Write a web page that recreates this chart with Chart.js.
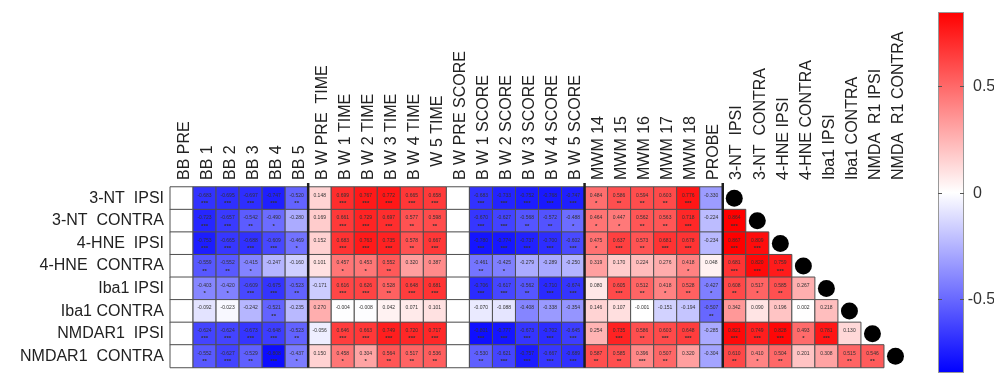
<!DOCTYPE html>
<html>
<head>
<meta charset="utf-8">
<script src="https://cdn.jsdelivr.net/npm/chart.js@4.4.1/dist/chart.umd.min.js"></script>
<style>
  html, body { margin: 0; padding: 0; background: #fff; }
  #wrap { width: 994px; height: 376px; }
</style>
</head>
<body>
<div id="wrap"><canvas id="corrChart" width="994" height="376"></canvas></div>
<script>
// row and column labels
const rowLabels = ["3-NT  IPSI", "3-NT  CONTRA", "4-HNE  IPSI", "4-HNE  CONTRA", "Iba1 IPSI", "Iba1 CONTRA", "NMDAR1  IPSI", "NMDAR1  CONTRA"]
const colLabels = [
    "BB PRE", "BB 1", "BB 2", "BB 3", "BB 4", "BB 5",
    "B W PRE  TIME", "B W 1 TIME", "B W 2 TIME", "B W 3 TIME", "B W 4 TIME", "   W 5 TIME",
    "B W PRE SCORE", "B W 1 SCORE", "B W 2 SCORE", "B W 3 SCORE", "B W 4 SCORE", "B W 5 SCORE",
    "MWM 14", "MWM 15", "MWM 16", "MWM 17", "MWM 18", "PROBE",
    "3-NT  IPSI", "3-NT  CONTRA", "4-HNE IPSI", "4-HNE CONTRA", "Iba1 IPSI", "Iba1 CONTRA", "NMDA  R1 IPSI", "NMDA  R1 CONTRA"
]
const cbTicks = [0.5, 0, -0.5]
const cbMin = -0.85
const cbMax = 0.85

// r values per row: 24 behaviour columns, then the lower triangle
const r3ntIpsi = [null, -0.683, -0.695, -0.697, -0.747, -0.520, 0.148, 0.699, 0.767, 0.772, 0.665, 0.658, null, -0.683, -0.733, -0.752, -0.768, -0.747, 0.484, 0.586, 0.594, 0.603, 0.776, -0.330]
const r3ntContra = [null, -0.723, -0.657, -0.542, -0.490, -0.280, 0.169, 0.661, 0.729, 0.697, 0.577, 0.598, null, -0.670, -0.627, -0.568, -0.572, -0.488, 0.464, 0.447, 0.562, 0.563, 0.718, -0.224, 0.864]
const r4hneIpsi = [null, -0.753, -0.665, -0.688, -0.609, -0.469, 0.152, 0.683, 0.763, 0.735, 0.578, 0.667, null, -0.780, -0.774, -0.737, -0.700, -0.602, 0.475, 0.637, 0.573, 0.681, 0.678, -0.234, 0.867, 0.809]
const r4hneContra = [null, -0.559, -0.552, -0.415, -0.247, -0.160, 0.101, 0.457, 0.453, 0.552, 0.320, 0.387, null, -0.461, -0.425, -0.279, -0.289, -0.250, 0.319, 0.170, 0.224, 0.276, 0.418, 0.048, 0.681, 0.820, 0.759]
const rIbaIpsi = [null, -0.403, -0.420, -0.609, -0.675, -0.523, -0.171, 0.616, 0.626, 0.528, 0.648, 0.681, null, -0.706, -0.617, -0.562, -0.710, -0.674, 0.080, 0.605, 0.512, 0.418, 0.528, -0.427, 0.608, 0.517, 0.585, 0.267]
const rIbaContra = [null, -0.092, -0.023, -0.242, -0.521, -0.235, 0.270, -0.004, -0.008, 0.042, 0.071, 0.101, null, -0.070, -0.088, -0.408, -0.338, -0.354, 0.146, 0.107, -0.001, -0.151, -0.194, -0.507, 0.342, 0.090, 0.196, 0.002, 0.218]
const rNmdaIpsi = [null, -0.624, -0.624, -0.673, -0.648, -0.523, -0.056, 0.646, 0.663, 0.749, 0.720, 0.717, null, -0.801, -0.777, -0.673, -0.702, -0.645, 0.254, 0.735, 0.586, 0.603, 0.648, -0.285, 0.821, 0.749, 0.828, 0.493, 0.781, 0.130]
const rNmdaContra = [null, -0.552, -0.627, -0.529, -0.808, -0.437, 0.150, 0.458, 0.304, 0.564, 0.517, 0.536, null, -0.530, -0.621, -0.757, -0.667, -0.689, 0.587, 0.585, 0.396, 0.507, 0.320, -0.304, 0.610, 0.410, 0.504, 0.201, 0.308, 0.515, 0.546]

// significance stars (number of *) per cell
const s3ntIpsi = [0, 3, 3, 3, 3, 2, 0, 3, 3, 3, 3, 3, 0, 3, 3, 3, 3, 3, 1, 2, 2, 2, 3, 0]
const s3ntContra = [0, 3, 3, 2, 1, 0, 0, 3, 3, 3, 2, 2, 0, 3, 3, 2, 2, 1, 1, 1, 2, 2, 3, 0, 3]
const s4hneIpsi = [0, 3, 3, 3, 3, 1, 0, 3, 3, 3, 2, 3, 0, 3, 3, 3, 3, 3, 1, 3, 2, 3, 3, 0, 3, 3]
const s4hneContra = [0, 2, 2, 1, 0, 0, 0, 1, 1, 2, 0, 0, 0, 2, 1, 0, 0, 0, 0, 0, 0, 0, 1, 0, 3, 3, 3]
const sIbaIpsi = [0, 1, 1, 3, 3, 2, 0, 3, 3, 2, 3, 3, 0, 3, 3, 2, 3, 3, 0, 3, 2, 1, 2, 1, 2, 1, 2, 0]
const sIbaContra = [0, 0, 0, 0, 2, 0, 0, 0, 0, 0, 0, 0, 0, 0, 0, 0, 0, 0, 0, 0, 0, 0, 0, 2, 0, 0, 0, 0, 0]
const sNmdaIpsi = [0, 3, 3, 3, 3, 2, 0, 3, 3, 3, 3, 3, 0, 3, 3, 3, 3, 3, 0, 3, 2, 3, 3, 0, 3, 3, 3, 1, 3, 0]
const sNmdaContra = [0, 2, 3, 2, 3, 1, 0, 1, 1, 2, 2, 2, 0, 2, 3, 3, 3, 3, 2, 2, 3, 2, 0, 0, 2, 1, 2, 0, 0, 2, 2]

const rRows = [r3ntIpsi, r3ntContra, r4hneIpsi, r4hneContra, rIbaIpsi, rIbaContra, rNmdaIpsi, rNmdaContra]
const sRows = [s3ntIpsi, s3ntContra, s4hneIpsi, s4hneContra, sIbaIpsi, sIbaContra, sNmdaIpsi, sNmdaContra]
const nBehaviour = 24

function cellColor(v) {
    if (v === null) return "#ffffff"
    const t = Math.min(Math.abs(v) / cbMax, 1)
    const c = Math.round(255 * (1 - t))
    return v > 0 ? `rgb(255,${c},${c})` : `rgb(${c},${c},255)`
}

const cells = []
const diag = []
rRows.forEach((row, i) => {
    row.forEach((v, j) => cells.push({ x: j, y: i, v: v, s: sRows[i][j] }))
    diag.push({ x: nBehaviour + i, y: i })
})

const cellSide = (chart) => Math.abs(chart.scales.x.getPixelForValue(1) - chart.scales.x.getPixelForValue(0))

// value + stars inside each cell, thick separators, colour bar
const cellText = {
    id: "cellText",
    afterDatasetsDraw(chart) {
        const { ctx, scales, chartArea } = chart
        ctx.save()
        ctx.textAlign = "center"
        ctx.textBaseline = "middle"
        ctx.fillStyle = "#333"
        cells.forEach((c) => {
            if (c.v === null) return
            const px = scales.x.getPixelForValue(c.x)
            const py = scales.y.getPixelForValue(c.y)
            ctx.font = "5px 'Liberation Sans', Arial"
            ctx.fillText(c.v.toFixed(3), px, py - 3)
            if (c.s > 0) {
                ctx.font = "bold 6px 'Liberation Sans', Arial"
                ctx.fillText("*".repeat(c.s), px, py + 5)
            }
        })

        ctx.strokeStyle = "#1e1e1e"
        ctx.lineWidth = 2.5
        ;[5.5, 17.5, 23.5].forEach((b) => {
            const x = scales.x.getPixelForValue(b)
            ctx.beginPath()
            ctx.moveTo(x, chartArea.top - 4)
            ctx.lineTo(x, chartArea.bottom)
            ctx.stroke()
        })
        ctx.restore()
    },
    afterDraw(chart) {
        const { ctx } = chart
        const left = 938, right = 964, top = 12, bottom = 373
        const yOf = (v) => top + (cbMax - v) / (cbMax - cbMin) * (bottom - top)
        ctx.save()
        const grad = ctx.createLinearGradient(0, top, 0, bottom)
        grad.addColorStop(0, "rgb(255,0,0)")
        grad.addColorStop(0.5, "rgb(255,255,255)")
        grad.addColorStop(1, "rgb(0,0,255)")
        ctx.fillStyle = grad
        ctx.fillRect(left, top, right - left, bottom - top)
        ctx.strokeStyle = "#999"
        ctx.lineWidth = 1
        ctx.strokeRect(left + 0.5, top + 0.5, right - left - 1, bottom - top - 1)
        ctx.font = "16px 'Liberation Sans', Arial"
        ctx.fillStyle = "#333"
        ctx.textBaseline = "middle"
        ctx.textAlign = "left"
        cbTicks.forEach((t) => {
            const y = Math.round(yOf(t)) + 0.5
            ctx.strokeStyle = "#555"
            ctx.beginPath()
            ctx.moveTo(left, y); ctx.lineTo(left + 4, y)
            ctx.moveTo(right - 4, y); ctx.lineTo(right, y)
            ctx.stroke()
            const label = String(t)
            const x = 973 - (t < 0 ? ctx.measureText("-").width : 0)
            ctx.fillText(label, x, y)
        })
        ctx.restore()
    },
}

const labelFont = { family: "'Liberation Sans', Arial", size: 16 }

new Chart(document.getElementById("corrChart"), {
    type: "scatter",
    data: {
        datasets: [
            {
                data: diag,
                pointStyle: "circle",
                pointRadius: 8.5,
                pointBackgroundColor: "#000",
                pointBorderWidth: 0,
                clip: false,
            },
            {
                data: cells,
                pointStyle: "rect",
                pointRadius: (ctx) => cellSide(ctx.chart) / Math.SQRT2,
                pointBackgroundColor: (ctx) => cellColor(ctx.raw.v),
                pointBorderColor: "#505050",
                pointBorderWidth: 1,
                clip: false,
            },
        ],
    },
    options: {
        responsive: false,
        animation: false,
        events: [],
        layout: { padding: { left: 0, top: 0, right: 87, bottom: 4 } },
        plugins: {
            legend: { display: false },
            tooltip: { enabled: false },
        },
        scales: {
            x: {
                type: "linear",
                position: "top",
                min: -0.5,
                max: colLabels.length - 0.5,
                afterBuildTicks: (s) => { s.ticks = colLabels.map((_, i) => ({ value: i })) },
                afterFit: (s) => { s.height = 187; s.paddingLeft = 0; s.paddingRight = 0 },
                grid: { display: false, drawTicks: false },
                border: { display: false },
                ticks: {
                    autoSkip: false,
                    minRotation: 90,
                    maxRotation: 90,
                    padding: 7,
                    labelOffset: 22,
                    color: "#222",
                    font: labelFont,
                    callback: (v) => colLabels[v],
                },
            },
            y: {
                type: "linear",
                reverse: true,
                min: -0.5,
                max: rowLabels.length - 0.5,
                afterBuildTicks: (s) => { s.ticks = rowLabels.map((_, i) => ({ value: i })) },
                afterFit: (s) => { s.width = 170; s.paddingTop = 0; s.paddingBottom = 0 },
                grid: { display: false, drawTicks: false },
                border: { display: false },
                ticks: {
                    padding: 6,
                    color: "#222",
                    font: labelFont,
                    callback: (v) => rowLabels[v],
                },
            },
        },
    },
    plugins: [cellText],
})
</script>
</body>
</html>
